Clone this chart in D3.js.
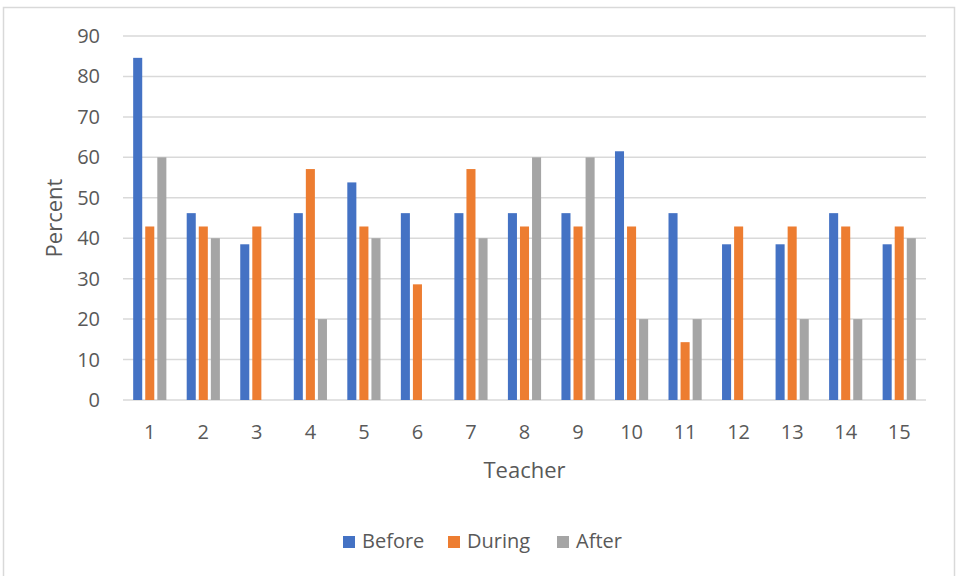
<!DOCTYPE html>
<html>
<head>
<meta charset="utf-8">
<script src="https://cdn.jsdelivr.net/npm/d3@7"></script>
<style>
  body { margin: 0; background: #fff; }
  svg { display: block; font-family: "Open Sans", sans-serif; }
</style>
</head>
<body>
<svg id="chart" width="956" height="576"></svg>
<script>
// Chart data
const teachers = ["1", "2", "3", "4", "5", "6", "7", "8", "9", "10", "11", "12", "13", "14", "15"];
const seriesNames = ["Before", "During", "After"];
const beforeValues = [84.6, 46.2, 38.5, 46.2, 53.8, 46.2, 46.2, 46.2, 46.2, 61.5, 46.2, 38.5, 38.5, 46.2, 38.5];
const duringValues = [42.9, 42.9, 42.9, 57.1, 42.9, 28.6, 57.1, 42.9, 42.9, 42.9, 14.3, 42.9, 42.9, 42.9, 42.9];
const afterValues = [60, 40, 0, 20, 40, 0, 40, 60, 60, 20, 20, 0, 20, 20, 40];
const yTicks = [0, 10, 20, 30, 40, 50, 60, 70, 80, 90];

const colors = ["#4472C4", "#ED7D31", "#A5A5A5"];
const textColor = "#595959";
const gridColor = "#d9d9d9";

const svg = d3.select("#chart");

// light frame around the chart area
svg.append("rect")
    .attr("x", 3.5)
    .attr("y", 7.5)
    .attr("width", 951)
    .attr("height", 600)
    .attr("fill", "none")
    .attr("stroke", gridColor)
    .attr("stroke-width", 1.5);

const plot = { left: 123, right: 926, top: 36, bottom: 400 };

const x0 = d3.scaleBand()
    .domain(teachers)
    .range([plot.left, plot.right])
    .paddingInner(0.38)
    .paddingOuter(0.19);

const x1 = d3.scaleBand()
    .domain(seriesNames)
    .range([0, x0.bandwidth()])
    .paddingInner(0.25);

const y = d3.scaleLinear()
    .domain([0, 90])
    .range([plot.bottom, plot.top]);

// gridlines
svg.append("g")
    .selectAll("line")
    .data(yTicks)
    .join("line")
    .attr("x1", plot.left)
    .attr("x2", plot.right)
    .attr("y1", d => y(d))
    .attr("y2", d => y(d))
    .attr("stroke", gridColor)
    .attr("stroke-width", 1.5);

// y tick labels
svg.append("g")
    .selectAll("text")
    .data(yTicks)
    .join("text")
    .attr("x", 100)
    .attr("y", d => y(d))
    .attr("dy", "0.35em")
    .attr("text-anchor", "end")
    .attr("fill", textColor)
    .style("font-size", "20px")
    .text(d => d);

// bars
const rows = teachers.map((t, i) => ({
    teacher: t,
    values: [beforeValues[i], duringValues[i], afterValues[i]]
}));

const groups = svg.append("g")
    .selectAll("g")
    .data(rows)
    .join("g")
    .attr("transform", d => `translate(${x0(d.teacher)},0)`);

groups.selectAll("rect")
    .data(d => d.values.map((v, j) => ({ key: seriesNames[j], value: v, color: colors[j] })))
    .join("rect")
    .attr("x", d => x1(d.key))
    .attr("y", d => y(d.value))
    .attr("width", x1.bandwidth())
    .attr("height", d => y(0) - y(d.value))
    .attr("fill", d => d.color);

// x tick labels
svg.append("g")
    .selectAll("text")
    .data(teachers)
    .join("text")
    .attr("x", d => x0(d) + x0.bandwidth() / 2)
    .attr("y", 439)
    .attr("text-anchor", "middle")
    .attr("fill", textColor)
    .style("font-size", "20px")
    .text(d => d);

// axis titles
svg.append("text")
    .attr("x", (plot.left + plot.right) / 2)
    .attr("y", 478)
    .attr("text-anchor", "middle")
    .attr("fill", textColor)
    .style("font-size", "22px")
    .text("Teacher");

svg.append("text")
    .attr("transform", "translate(62,218) rotate(-90)")
    .attr("text-anchor", "middle")
    .attr("fill", textColor)
    .style("font-size", "22px")
    .text("Percent");

// legend
const legendX = [343, 448, 557];
const legend = svg.append("g")
    .selectAll("g")
    .data(seriesNames)
    .join("g")
    .attr("transform", (d, i) => `translate(${legendX[i]},536)`);

legend.append("rect")
    .attr("width", 12)
    .attr("height", 12)
    .attr("fill", (d, i) => colors[i]);

legend.append("text")
    .attr("x", 19)
    .attr("y", 12)
    .attr("fill", textColor)
    .style("font-size", "20px")
    .text(d => d);
</script>
</body>
</html>
